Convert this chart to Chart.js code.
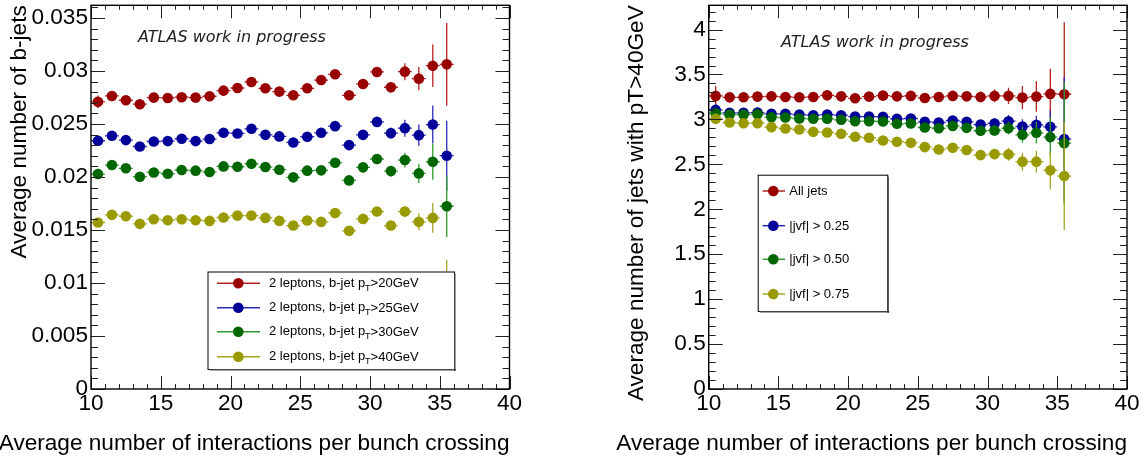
<!DOCTYPE html>
<html>
<head>
<title>b-jets vs pile-up</title>
<script src="https://cdn.jsdelivr.net/npm/chart.js"></script>
<style>
body { margin: 0; background: #fff; width: 1144px; height: 463px; overflow: hidden; position: relative; }
canvas { position: absolute; top: 0; }
</style>
</head>
<body>
<canvas id="left" width="572" height="463" style="left:0"></canvas>
<canvas id="right" width="572" height="463" style="left:572px"></canvas>
<script>
// bin centres: average number of interactions per bunch crossing
var mu = [10.5, 11.5, 12.5, 13.5, 14.5, 15.5, 16.5, 17.5, 18.5, 19.5, 20.5, 21.5, 22.5,
          23.5, 24.5, 25.5, 26.5, 27.5, 28.5, 29.5, 30.5, 31.5, 32.5, 33.5, 34.5, 35.5];

// left: average number of b-jets
var bjet20 = [0.02709, 0.02765, 0.02724, 0.02687, 0.02749, 0.02746, 0.02753, 0.02749, 0.02762, 0.02815, 0.02840, 0.02897, 0.02837,
              0.02806, 0.02771, 0.02837, 0.02915, 0.02969, 0.02771, 0.02878, 0.02991, 0.02847, 0.02994, 0.02928, 0.03050, 0.03063];
var bjet25 = [0.02342, 0.02389, 0.02348, 0.02288, 0.02335, 0.02339, 0.02361, 0.02339, 0.02358, 0.02417, 0.02411, 0.02455, 0.02398,
              0.02383, 0.02326, 0.02380, 0.02417, 0.02480, 0.02301, 0.02398, 0.02520, 0.02414, 0.02461, 0.02395, 0.02495, 0.02201];
var bjet30 = [0.02028, 0.02113, 0.02082, 0.02003, 0.02043, 0.02031, 0.02066, 0.02060, 0.02047, 0.02100, 0.02097, 0.02125, 0.02094,
              0.02069, 0.01997, 0.02060, 0.02063, 0.02135, 0.01968, 0.02091, 0.02170, 0.02056, 0.02160, 0.02034, 0.02144, 0.01724];
var bjet40 = [0.01571, 0.01643, 0.01630, 0.01558, 0.01602, 0.01592, 0.01602, 0.01592, 0.01586, 0.01618, 0.01636, 0.01636, 0.01614,
              0.01586, 0.01542, 0.01589, 0.01577, 0.01661, 0.01492, 0.01605, 0.01674, 0.01542, 0.01674, 0.01577, 0.01614, 0.00880];
var bjet20Err = [0.0006, 0.0003, 0.0003, 0.0003, 0.0003, 0.0003, 0.0003, 0.0003, 0.0003, 0.0003, 0.0003, 0.0003, 0.0003,
                 0.0003, 0.0003, 0.0003, 0.0003, 0.0003, 0.0003, 0.0003, 0.0004, 0.0005, 0.0008, 0.0011, 0.0020, 0.0039];
var bjet25Err = [0.0005, 0.0003, 0.0003, 0.0003, 0.0003, 0.0003, 0.0003, 0.0003, 0.0003, 0.0003, 0.0003, 0.0003, 0.0003,
                 0.0003, 0.0003, 0.0003, 0.0003, 0.0003, 0.0003, 0.0003, 0.0004, 0.0005, 0.0008, 0.0010, 0.0018, 0.0033];
var bjet30Err = [0.0005, 0.0003, 0.0003, 0.0003, 0.0003, 0.0003, 0.0003, 0.0003, 0.0003, 0.0003, 0.0003, 0.0003, 0.0003,
                 0.0003, 0.0003, 0.0003, 0.0003, 0.0003, 0.0003, 0.0003, 0.0004, 0.0005, 0.0007, 0.0009, 0.0017, 0.0029];
var bjet40Err = [0.0004, 0.0003, 0.0003, 0.0003, 0.0003, 0.0003, 0.0003, 0.0003, 0.0003, 0.0003, 0.0003, 0.0003, 0.0003,
                 0.0003, 0.0003, 0.0003, 0.0003, 0.0003, 0.0003, 0.0003, 0.0003, 0.0004, 0.0005, 0.0008, 0.0014, 0.0034];

// right: average number of jets with pT > 40 GeV
var jetsAll = [3.262, 3.246, 3.246, 3.254, 3.257, 3.250, 3.246, 3.250, 3.268, 3.257, 3.235, 3.254, 3.265,
               3.257, 3.262, 3.239, 3.250, 3.262, 3.257, 3.250, 3.262, 3.262, 3.243, 3.254, 3.284, 3.280];
var jvf025 = [3.106, 3.073, 3.073, 3.076, 3.062, 3.062, 3.054, 3.047, 3.054, 3.047, 3.032, 3.032, 3.029,
              3.007, 3.010, 2.973, 2.966, 2.988, 2.973, 2.943, 2.955, 2.980, 2.921, 2.940, 2.918, 2.781];
var jvf050 = [3.069, 3.054, 3.054, 3.058, 3.025, 3.021, 3.010, 3.007, 3.007, 2.996, 2.980, 2.980, 2.977,
              2.951, 2.955, 2.910, 2.902, 2.928, 2.906, 2.874, 2.877, 2.902, 2.829, 2.851, 2.803, 2.736];
var jvf075 = [3.007, 2.966, 2.958, 2.958, 2.914, 2.899, 2.888, 2.862, 2.855, 2.840, 2.807, 2.796, 2.766,
              2.752, 2.741, 2.692, 2.666, 2.685, 2.659, 2.603, 2.614, 2.611, 2.530, 2.530, 2.433, 2.370];
var jetsAllErr = [0.11, 0.06, 0.05, 0.05, 0.05, 0.05, 0.05, 0.05, 0.05, 0.05, 0.05, 0.05, 0.05,
                  0.05, 0.05, 0.05, 0.05, 0.05, 0.05, 0.06, 0.07, 0.09, 0.13, 0.17, 0.28, 0.80];
var jvf025Err = [0.06, 0.04, 0.04, 0.04, 0.04, 0.04, 0.04, 0.04, 0.04, 0.04, 0.04, 0.04, 0.04,
                 0.04, 0.04, 0.04, 0.04, 0.04, 0.04, 0.05, 0.06, 0.07, 0.08, 0.10, 0.18, 0.69];
var jvf050Err = [0.06, 0.04, 0.04, 0.04, 0.04, 0.04, 0.04, 0.04, 0.04, 0.04, 0.04, 0.04, 0.04,
                 0.04, 0.04, 0.04, 0.04, 0.04, 0.04, 0.05, 0.06, 0.07, 0.09, 0.12, 0.22, 0.68];
var jvf075Err = [0.06, 0.04, 0.04, 0.04, 0.04, 0.04, 0.04, 0.04, 0.04, 0.04, 0.04, 0.04, 0.04,
                 0.04, 0.04, 0.04, 0.04, 0.04, 0.04, 0.05, 0.06, 0.07, 0.10, 0.12, 0.21, 0.60];

var xTicks = [10, 15, 20, 25, 30, 35, 40];
var leftYTicks = [0, 0.005, 0.01, 0.015, 0.02, 0.025, 0.03, 0.035];
var rightYTicks = [0, 0.5, 1, 1.5, 2, 2.5, 3, 3.5, 4];

var leftLabels = ['>20GeV', '>25GeV', '>30GeV', '>40GeV'];
var rightLabels = ['All jets', '|jvf| > 0.25', '|jvf| > 0.50', '|jvf| > 0.75'];

var markerCols = ['#990000', '#000099', '#006600', '#999900'];
var lineCols = ['#b52020', '#2a2ab5', '#2f9a2f', '#a5a525'];
var FONT = '"Liberation Sans", Arial, sans-serif';

function pts(ys) {
    return ys.map(function (y, i) { return { x: mu[i], y: y }; });
}

function makeSets(series, errs) {
    return series.map(function (s, k) {
        return {
            data: pts(s),
            yErr: errs[k],
            errColor: lineCols[k],
            pointRadius: 5.3,
            pointBorderWidth: 0,
            pointBackgroundColor: markerCols[k],
            showLine: false,
            order: 3 - k
        };
    });
}

// vertical stat error + horizontal bin-width bar, drawn under each dataset's markers
var errorBars = {
    id: 'errorBars',
    beforeDatasetDraw: function (chart, args) {
        var ds = chart.data.datasets[args.index];
        var xs = chart.scales.x, ys = chart.scales.y, ctx = chart.ctx, a = chart.chartArea;
        ctx.save();
        ctx.beginPath();
        ctx.rect(a.left, a.top, a.right - a.left, a.bottom - a.top);
        ctx.clip();
        ctx.strokeStyle = ds.errColor;
        ctx.lineWidth = 1.3;
        ds.data.forEach(function (p, i) {
            var e = ds.yErr[i];
            var px = xs.getPixelForValue(p.x), py = ys.getPixelForValue(p.y);
            ctx.beginPath();
            ctx.moveTo(xs.getPixelForValue(p.x - 0.5), py);
            ctx.lineTo(xs.getPixelForValue(p.x + 0.5), py);
            ctx.moveTo(px, ys.getPixelForValue(p.y - e));
            ctx.lineTo(px, ys.getPixelForValue(p.y + e));
            ctx.stroke();
        });
        ctx.restore();
    }
};

// ROOT style frame with ticks inside on all four sides
var frame = {
    id: 'frame',
    afterDatasetsDraw: function (chart, args, opt) {
        var ctx = chart.ctx, a = chart.chartArea, xs = chart.scales.x, ys = chart.scales.y;
        ctx.save();
        ctx.strokeStyle = '#222';
        ctx.lineWidth = 1;
        ctx.beginPath();
        var i, v, p, len;
        for (i = 0; i <= 30; i++) {
            v = xs.min + i;
            p = Math.round(xs.getPixelForValue(v)) + 0.5;
            len = (i % 5 === 0) ? 13 : 5;
            ctx.moveTo(p, a.bottom); ctx.lineTo(p, a.bottom - len);
            ctx.moveTo(p, a.top); ctx.lineTo(p, a.top + ((i % 5 === 0) ? 13 : 4.5));
        }
        for (i = 0; ; i++) {
            v = i * opt.minor;
            if (v > ys.max + 1e-9) break;
            p = Math.round(ys.getPixelForValue(v)) + 0.5;
            len = (i % 5 === 0) ? 14 : 7;
            ctx.moveTo(a.left, p); ctx.lineTo(a.left + len, p);
            ctx.moveTo(a.right, p); ctx.lineTo(a.right - len, p);
        }
        ctx.stroke();
        ctx.strokeStyle = '#000';
        ctx.lineWidth = 1.4;
        ctx.strokeRect(a.left, a.top, a.right - a.left, a.bottom - a.top);
        ctx.restore();
    }
};

// axis titles, the "work in progress" label and the boxed legend
var decor = {
    id: 'decor',
    afterDraw: function (chart, args, opt) {
        var ctx = chart.ctx, a = chart.chartArea;
        ctx.save();
        ctx.fillStyle = '#000';
        ctx.font = '22.6px ' + FONT;
        ctx.textBaseline = 'alphabetic';
        ctx.textAlign = 'right';
        ctx.fillText('Average number of interactions per bunch crossing', a.right, 450);
        ctx.save();
        ctx.translate(opt.yTitleX, a.top);
        ctx.rotate(-Math.PI / 2);
        ctx.fillText(opt.yTitle, 0, 0);
        ctx.restore();

        // ATLAS work in progress
        ctx.textAlign = 'left';
        ctx.fillStyle = '#222';
        var fs = 18;
        ctx.font = 'italic ' + fs + 'px "DejaVu Sans"';
        var w = ctx.measureText('ATLAS work in progress').width;
        fs = fs * 188 / w;
        ctx.font = 'italic ' + fs.toFixed(2) + 'px "DejaVu Sans"';
        ctx.fillText('ATLAS work in progress', opt.atlas[0], opt.atlas[1]);

        // legend
        var L = opt.legend;
        ctx.fillStyle = '#fff';
        ctx.fillRect(L.box[0], L.box[1], L.box[2] - L.box[0], L.box[3] - L.box[1]);
        ctx.strokeStyle = '#000';
        ctx.lineWidth = 1;
        ctx.strokeRect(L.box[0] + 0.5, L.box[1] + 0.5, L.box[2] - L.box[0], L.box[3] - L.box[1]);
        ctx.fillStyle = '#444';
        ctx.fillRect(L.box[0] + 2, L.box[3], L.box[2] - L.box[0], 1.5);
        ctx.fillRect(L.box[2], L.box[1] + 2, 1.5, L.box[3] - L.box[1]);
        L.labels.forEach(function (lab, k) {
            var cy = L.rows[k];
            ctx.strokeStyle = lineCols[k];
            ctx.lineWidth = 1.5;
            ctx.beginPath();
            ctx.moveTo(L.line[0], cy); ctx.lineTo(L.line[1], cy);
            ctx.stroke();
            ctx.fillStyle = markerCols[k];
            ctx.beginPath();
            ctx.arc(L.mark, cy, 5.3, 0, Math.PI * 2);
            ctx.fill();
            ctx.fillStyle = '#000';
            ctx.font = '13px ' + FONT;
            var x = L.text;
            if (L.sub) {
                ctx.fillText('2 leptons, b-jet p', x, cy + 3.5);
                x += ctx.measureText('2 leptons, b-jet p').width;
                ctx.font = '9px ' + FONT;
                ctx.fillText('T', x, cy + 7.5);
                x += ctx.measureText('T').width;
                ctx.font = '13px ' + FONT;
            }
            ctx.fillText(lab, x, cy + 4);
        });
        ctx.restore();
    }
};

function makeChart(id, sets, yMax, yTickList, yWidth, padRight, decorOpt, minor) {
    return new Chart(document.getElementById(id), {
        type: 'scatter',
        data: { datasets: sets },
        plugins: [errorBars, frame, decor],
        options: {
            responsive: false,
            animation: false,
            devicePixelRatio: 1,
            events: [],
            layout: { padding: { top: 5, right: padRight, left: 0, bottom: 0 } },
            plugins: {
                legend: { display: false },
                tooltip: { enabled: false },
                frame: { minor: minor },
                decor: decorOpt
            },
            scales: {
                x: {
                    type: 'linear', min: 10, max: 40,
                    grid: { display: false, drawTicks: false }, border: { display: false },
                    afterBuildTicks: function (s) { s.ticks = xTicks.map(function (v) { return { value: v }; }); },
                    ticks: { font: { family: FONT, size: 22.6 }, color: '#000', padding: 1, maxRotation: 0, autoSkip: false },
                    afterFit: function (s) { s.height = 74; s.paddingLeft = 0; s.paddingRight = 0; }
                },
                y: {
                    type: 'linear', min: 0, max: yMax,
                    grid: { display: false, drawTicks: false }, border: { display: false },
                    afterBuildTicks: function (s) { s.ticks = yTickList.map(function (v) { return { value: v }; }); },
                    ticks: {
                        font: { family: FONT, size: 22.6 }, color: '#000', padding: 3, autoSkip: false,
                        callback: function (v) { return String(Math.round(v * 1000) / 1000); }
                    },
                    afterFit: function (s) { s.width = yWidth; s.paddingTop = 0; s.paddingBottom = 0; }
                }
            }
        }
    });
}

makeChart('left',
    makeSets([bjet20, bjet25, bjet30, bjet40], [bjet20Err, bjet25Err, bjet30Err, bjet40Err]),
    0.0362, leftYTicks, 91, 62.5,
    {
        yTitle: 'Average number of b-jets', yTitleX: 26, atlas: [138, 42],
        legend: { box: [207.5, 271.5, 454, 369], rows: [283.3, 307.7, 331.7, 356.7], line: [217, 260], mark: 238.3, text: 269, labels: leftLabels, sub: true }
    }, 0.001);

makeChart('right',
    makeSets([jetsAll, jvf025, jvf050, jvf075], [jetsAllErr, jvf025Err, jvf050Err, jvf075Err]),
    4.27, rightYTicks, 136.7, 17,
    {
        yTitle: 'Average number of jets with pT>40GeV', yTitleX: 643 - 572, atlas: [781 - 572, 47],
        legend: { box: [185.7, 174.7, 315.3, 311], rows: [191, 225.7, 259.3, 294], line: [190.7, 213], mark: 201.3, text: 217.3, labels: rightLabels, sub: false }
    }, 0.1);
</script>
</body>
</html>
